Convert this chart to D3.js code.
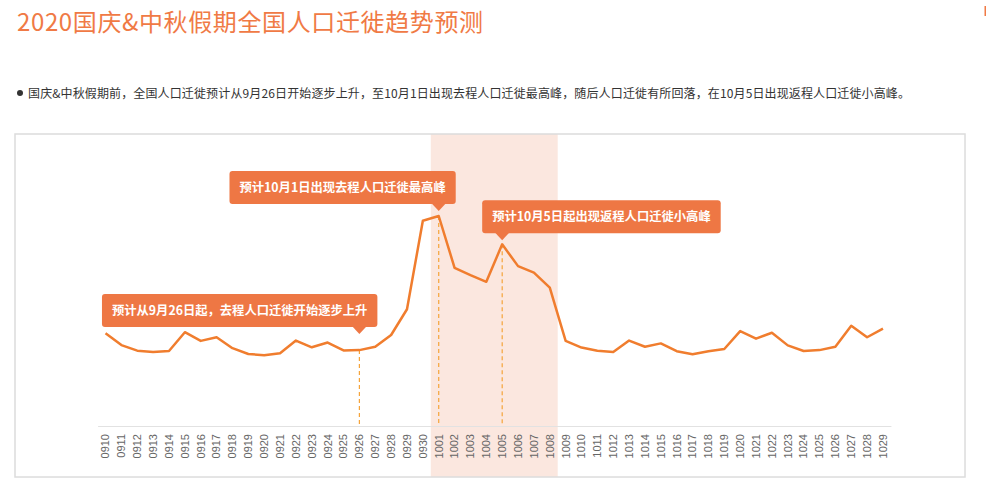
<!DOCTYPE html>
<html><head><meta charset="utf-8">
<script src="https://cdn.jsdelivr.net/npm/d3@7"></script>
<style>body{margin:0;background:#fff;} svg{display:block;}</style>
</head><body><svg id="c" width="986" height="491"></svg>
<script>
const dates = ["0910","0911","0912","0913","0914","0915","0916","0917","0918","0919",
  "0920","0921","0922","0923","0924","0925","0926","0927","0928","0929","0930",
  "1001","1002","1003","1004","1005","1006","1007","1008","1009","1010","1011",
  "1012","1013","1014","1015","1016","1017","1018","1019","1020","1021","1022",
  "1023","1024","1025","1026","1027","1028","1029"];
const values = [33.1,28.9,26.9,26.4,26.8,33.5,30.4,31.7,27.8,25.7,
  25.3,26.0,30.5,28.1,29.8,27.0,27.1,28.3,32.5,41.7,73.3,
  75.0,56.5,53.9,51.5,64.9,57.1,54.8,49.4,30.4,28.0,26.9,
  26.4,30.5,28.3,29.5,26.7,25.6,26.7,27.5,33.9,31.2,33.3,
  28.8,26.8,27.1,28.3,35.8,31.7,34.75];
const holidayRange = ["1001","1008"];
const annotationDates = ["0926","1001","1005"];
const annotationTexts = ["预计从9月26日起，去程人口迁徙开始逐步上升","预计10月1日出现去程人口迁徙最高峰","预计10月5日起出现返程人口迁徙小高峰"];
const titleText = "2020国庆&中秋假期全国人口迁徙趋势预测";
const subtitleText = "国庆&中秋假期前，全国人口迁徙预计从9月26日开始逐步上升，至10月1日出现去程人口迁徙最高峰，随后人口迁徙有所回落，在10月5日出现返程人口迁徙小高峰。";

const svg = d3.select("#c");
const cjk = "'Noto Sans CJK SC','Noto Sans',sans-serif";
const orange = "#f07d2e";
const boxColor = "#ee7744";

// title
svg.append("text").attr("x", 17).attr("y", 31).text(titleText)
  .attr("font-family", cjk).attr("font-size", 24).attr("fill", "#f07a45")
  .attr("textLength", 466).attr("lengthAdjust", "spacing");
// subtitle
svg.append("circle").attr("cx", 20).attr("cy", 93).attr("r", 3).attr("fill", "#333");
svg.append("text").attr("x", 28).attr("y", 97.5).text(subtitleText)
  .attr("font-family", cjk).attr("font-size", 12).attr("fill", "#333")
  .attr("textLength", 882).attr("lengthAdjust", "spacing");

// frame
const frame = {x0: 15, y0: 134, x1: 965, y1: 477};
const x = d3.scaleBand().domain(dates).range([97.6, 890.9]).padding(0);
const y = d3.scaleLinear().domain([0, 100]).range([426, 146]);

// holiday shading
const hx0 = x(holidayRange[0]), hx1 = x(holidayRange[1]) + x.bandwidth();
svg.append("rect").attr("x", hx0).attr("y", frame.y0).attr("width", hx1 - hx0)
  .attr("height", frame.y1 - frame.y0).attr("fill", "#fbe7df");

svg.append("rect").attr("x", frame.x0).attr("y", frame.y0)
  .attr("width", frame.x1 - frame.x0).attr("height", frame.y1 - frame.y0)
  .attr("fill", "none").attr("stroke", "#dcdcdc").attr("stroke-width", 1.5);

// x axis
const xAxis = d3.axisBottom(x).tickSize(0).tickPadding(0);
const gx = svg.append("g").attr("transform", `translate(0,${y(0)})`).call(xAxis);
gx.select(".domain").attr("stroke", "#e2e2e2").attr("stroke-width", 1.2);
gx.selectAll(".tick text")
  .attr("transform", "rotate(-90)")
  .attr("x", -8).attr("y", 0).attr("dy", "0.35em")
  .attr("text-anchor", "end")
  .attr("font-family", "'Liberation Sans',Arial,sans-serif")
  .attr("font-size", 11).attr("fill", "#666");

const cx = d => x(d) + x.bandwidth() / 2;

// dashed guides
annotationDates.forEach(d => {
  const v = values[dates.indexOf(d)];
  svg.append("line").attr("x1", cx(d)).attr("x2", cx(d))
    .attr("y1", y(v)).attr("y2", y(0))
    .attr("stroke", "#f5a43a").attr("stroke-width", 1.2).attr("stroke-dasharray", "4,3");
});

// line
const line = d3.line().x((d, i) => cx(dates[i])).y(d => y(d));
svg.append("path").datum(values).attr("d", line)
  .attr("fill", "none").attr("stroke", orange).attr("stroke-width", 2.5)
  .attr("stroke-linejoin", "round");

// annotations (layout: box anchor relative to pointer)
const layout = [
  {side: "right", off: 18, lift: 16},
  {side: "right", off: 17, lift: 5},
  {side: "left", off: 20, lift: 4}
];
annotationDates.forEach((d, i) => {
  const v = values[dates.indexOf(d)];
  const px = cx(d), tipY = y(v) - layout[i].lift;
  const g = svg.append("g");
  const t = g.append("text").text(annotationTexts[i])
    .attr("font-family", cjk).attr("font-size", 12.3).attr("font-weight", "bold")
    .attr("fill", "#fff").attr("text-anchor", "middle");
  const w = t.node().getComputedTextLength() + 20;
  const h = 33;
  const bx = layout[i].side === "right" ? px + layout[i].off - w : px - layout[i].off;
  const by = tipY - 7 - h;
  g.insert("rect", "text").attr("x", bx).attr("y", by).attr("width", w).attr("height", h)
    .attr("rx", 3).attr("fill", boxColor);
  g.insert("path", "text").attr("d", `M${px-7},${by+h-0.5}L${px+7},${by+h-0.5}L${px},${tipY}Z`).attr("fill", boxColor);
  t.attr("x", bx + w / 2).attr("y", by + h / 2 + 4.5);
});

// small cut-off mark at top right
svg.append("rect").attr("x", 984.5).attr("y", 6).attr("width", 2).attr("height", 10).attr("fill", "#f07a45");
</script></body></html>
